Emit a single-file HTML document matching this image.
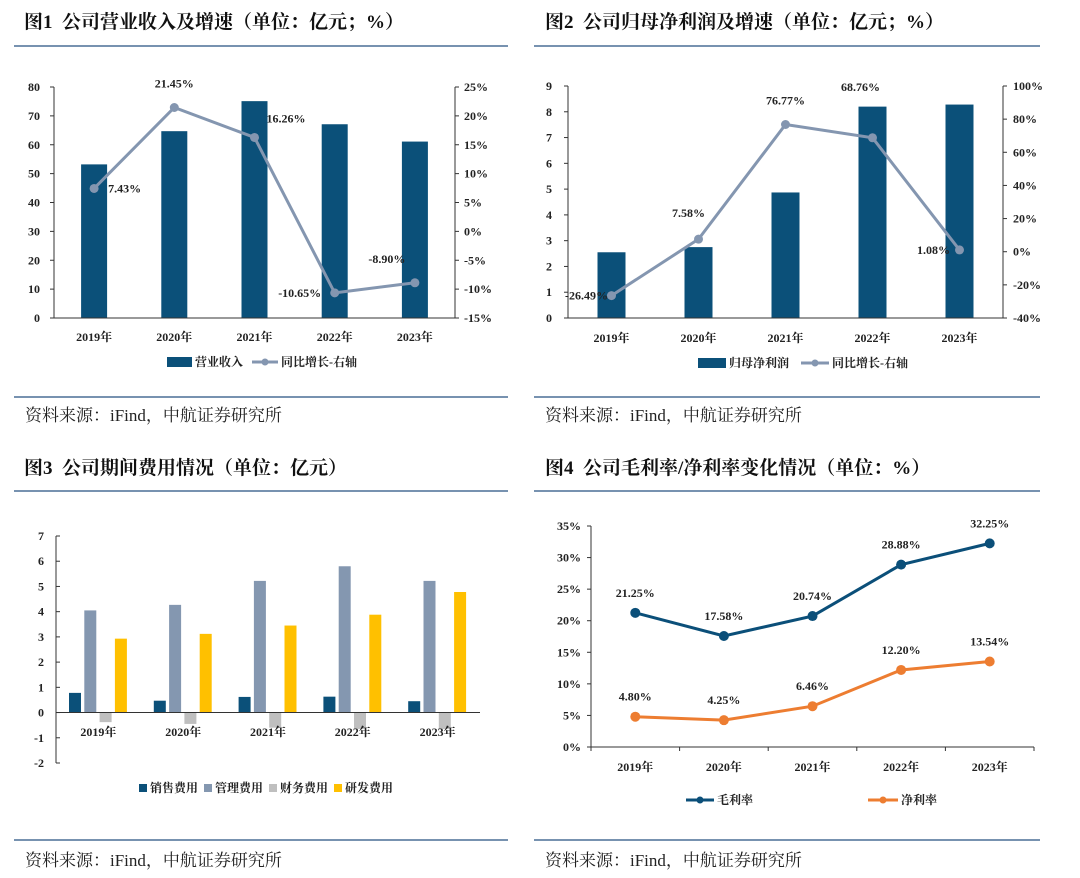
<!DOCTYPE html>
<html><head><meta charset="utf-8"><style>
html,body{margin:0;padding:0;background:#fff;}
svg{display:block;}
text{font-family:"Liberation Serif","Noto Serif CJK SC",serif;}
.t{font-size:19px;font-weight:bold;fill:#111;}
.s{font-size:17px;fill:#222;}
.a{font-size:12px;font-weight:bold;fill:#222;}
.l{font-size:12px;font-weight:bold;fill:#222;}
</style></head><body>
<svg id="svg" width="1080" height="878" viewBox="0 0 1080 878">
<g>
<text class="t" x="24" y="28">图1&#160;&#160;公司营业收入及增速（单位：亿元；%）</text>
<text class="t" x="545" y="28">图2&#160;&#160;公司归母净利润及增速（单位：亿元；%）</text>
<text class="t" x="24" y="474">图3&#160;&#160;公司期间费用情况（单位：亿元）</text>
<text class="t" x="545" y="474">图4&#160;&#160;公司毛利率/净利率变化情况（单位：%）</text>
<line x1="14" y1="46" x2="508" y2="46" stroke="#4a6f96" stroke-width="1.5"/>
<line x1="534" y1="46" x2="1040" y2="46" stroke="#4a6f96" stroke-width="1.5"/>
<line x1="14" y1="491" x2="508" y2="491" stroke="#4a6f96" stroke-width="1.5"/>
<line x1="534" y1="491" x2="1040" y2="491" stroke="#4a6f96" stroke-width="1.5"/>
<line x1="14" y1="397" x2="508" y2="397" stroke="#4a6f96" stroke-width="1.5"/>
<line x1="534" y1="397" x2="1040" y2="397" stroke="#4a6f96" stroke-width="1.5"/>
<line x1="14" y1="840" x2="508" y2="840" stroke="#4a6f96" stroke-width="1.5"/>
<line x1="534" y1="840" x2="1040" y2="840" stroke="#4a6f96" stroke-width="1.5"/>
<text class="s" x="25" y="421">资料来源：iFind，中航证券研究所</text>
<text class="s" x="545" y="421">资料来源：iFind，中航证券研究所</text>
<text class="s" x="25" y="866">资料来源：iFind，中航证券研究所</text>
<text class="s" x="545" y="866">资料来源：iFind，中航证券研究所</text>
</g>
<g id="c1"></g>
<g id="c2"></g>
<g id="c3"></g>
<g id="c4"></g>
</svg>
<script>
const years = ["2019年","2020年","2021年","2022年","2023年"];
const revenue = [53.2,64.7,75.1,67.1,61.1];
const revGrowth = [7.43,21.45,16.26,-10.65,-8.90];
const revTicks = [0,10,20,30,40,50,60,70,80];
const revGTicks = [-15,-10,-5,0,5,10,15,20,25];
const profit = [2.55,2.75,4.87,8.2,8.28];
const profGrowth = [-26.49,7.58,76.77,68.76,1.08];
const profTicks = [0,1,2,3,4,5,6,7,8,9];
const profGTicks = [-40,-20,0,20,40,60,80,100];
const sales = [0.78,0.47,0.62,0.63,0.45];
const admin = [4.05,4.27,5.22,5.8,5.22];
const finance = [-0.38,-0.45,-0.6,-0.65,-0.65];
const rnd = [2.93,3.12,3.45,3.88,4.78];
const expTicks = [-2,-1,0,1,2,3,4,5,6,7];
const gross = [21.25,17.58,20.74,28.88,32.25];
const net = [4.80,4.25,6.46,12.20,13.54];
const marginTicks = [0,5,10,15,20,25,30,35];

const NS="http://www.w3.org/2000/svg";
function mk(p,tag,at){const e=document.createElementNS(NS,tag);for(const k in at)e.setAttribute(k,at[k]);p.appendChild(e);return e;}
function txt(p,x,y,s,cls,anchor,fill){const e=mk(p,'text',{x:x,y:y,'class':cls,'text-anchor':anchor||'middle'});if(fill)e.setAttribute('fill',fill);e.textContent=s;return e;}
function lin(d0,d1,r0,r1){return v=>r0+(v-d0)*(r1-r0)/(d1-d0);}
const BLUE="#0b5079", GREYL="#8496b0";

// Chart 1
(function(){
const g=document.getElementById('c1');
const L=54,R=455,T=87,B=318;
const y=lin(0,80,B,T), y2=lin(-15,25,B,T);
const step=(R-L)/5, cx=i=>L+step*(i+0.5);
revTicks.forEach(t=>{mk(g,'line',{x1:L-4,x2:L,y1:y(t),y2:y(t),stroke:'#333'});const e=txt(g,L-14,y(t)+4,t,'a','end');});
revGTicks.forEach(t=>{mk(g,'line',{x1:R,x2:R+4,y1:y2(t),y2:y2(t),stroke:'#333'});const e=txt(g,R+9,y2(t)+4,t+'%','a','start');});
revenue.forEach((v,i)=>{const r=mk(g,'rect',{x:cx(i)-13,y:y(v),width:26,height:B-y(v),fill:BLUE});
const e=txt(g,cx(i),341,years[i],'a');});
mk(g,'line',{x1:L,x2:L,y1:T,y2:B,stroke:'#333'});mk(g,'line',{x1:R,x2:R,y1:T,y2:B,stroke:'#333'});mk(g,'line',{x1:L,x2:R,y1:B,y2:B,stroke:'#333'});
const pl=mk(g,'polyline',{points:revGrowth.map((v,i)=>cx(i)+','+y2(v)).join(' '),fill:'none',stroke:GREYL,'stroke-width':3});

const off=[[14,4,'start'],[0,-20,'middle'],[12,-15,'start'],[-35,4,'middle'],[-28,-20,'middle']];
revGrowth.forEach((v,i)=>{const c=mk(g,'circle',{cx:cx(i),cy:y2(v),r:4.5,fill:GREYL});
const o=off[i];const e=txt(g,cx(i)+o[0],y2(v)+o[1],v.toFixed(2)+'%','l',o[2]);});
mk(g,'rect',{x:167,y:357,width:25,height:10,fill:BLUE});txt(g,195,366,'营业收入','l','start');
mk(g,'line',{x1:252,x2:278,y1:362,y2:362,stroke:GREYL,'stroke-width':3});mk(g,'circle',{cx:265,cy:362,r:3.5,fill:GREYL});txt(g,281,366,'同比增长-右轴','l','start');
})();

// Chart 2
(function(){
const g=document.getElementById('c2');
const L=568,R=1003,T=86,B=318;
const y=lin(0,9,B,T), y2=lin(-40,100,B,T);
const step=(R-L)/5, cx=i=>L+step*(i+0.5);
profTicks.forEach(t=>{mk(g,'line',{x1:L-4,x2:L,y1:y(t),y2:y(t),stroke:'#333'});const e=txt(g,L-16,y(t)+4,t,'a','end');});
profGTicks.forEach(t=>{mk(g,'line',{x1:R,x2:R+4,y1:y2(t),y2:y2(t),stroke:'#333'});const e=txt(g,R+10,y2(t)+4,t+'%','a','start');});
profit.forEach((v,i)=>{const r=mk(g,'rect',{x:cx(i)-14,y:y(v),width:28,height:B-y(v),fill:BLUE});
const e=txt(g,cx(i),342,years[i],'a');});
mk(g,'line',{x1:L,x2:L,y1:T,y2:B,stroke:'#333'});mk(g,'line',{x1:R,x2:R,y1:T,y2:B,stroke:'#333'});mk(g,'line',{x1:L,x2:R,y1:B,y2:B,stroke:'#333'});
mk(g,'polyline',{points:profGrowth.map((v,i)=>cx(i)+','+y2(v)).join(' '),fill:'none',stroke:GREYL,'stroke-width':3});
const off=[[-25,4],[-10,-22],[0,-20],[-12,-47],[-26,4]];
profGrowth.forEach((v,i)=>{const c=mk(g,'circle',{cx:cx(i),cy:y2(v),r:4.5,fill:GREYL});
const e=txt(g,cx(i)+off[i][0],y2(v)+off[i][1],v.toFixed(2)+'%','l');});
mk(g,'rect',{x:698,y:358,width:28,height:10,fill:BLUE});txt(g,729,367,'归母净利润','l','start');
mk(g,'line',{x1:801,x2:829,y1:363,y2:363,stroke:GREYL,'stroke-width':3});mk(g,'circle',{cx:815,cy:363,r:3.5,fill:GREYL});txt(g,832,367,'同比增长-右轴','l','start');
})();

// Chart 3
(function(){
const g=document.getElementById('c3');
const L=56,R=480,T=536,B=763;
const y=lin(-2,7,B,T);
const step=(R-L)/5;
expTicks.forEach(t=>{mk(g,'line',{x1:L,x2:L+4,y1:y(t),y2:y(t),stroke:'#333'});const e=txt(g,L-12,y(t)+4,t,'a','end');});
const series=[sales,admin,finance,rnd], cols=[BLUE,'#8497b0','#bfbfbf','#ffc000'], names=['销售费用','管理费用','财务费用','研发费用'];
series.forEach((s,k)=>s.forEach((v,i)=>{const x=L+13+step*i+k*15.3;const r=mk(g,'rect',{x:x,y:Math.min(y(v),y(0)),width:12,height:Math.abs(y(v)-y(0)),fill:cols[k]});
}));
years.forEach((s,i)=>{const e=txt(g,L+step*(i+0.5),736,s,'a');});
mk(g,'line',{x1:L,x2:L,y1:T,y2:B,stroke:'#333'});mk(g,'line',{x1:L,x2:R,y1:y(0),y2:y(0),stroke:'#333'});
const lx=[139,204,269,334];
names.forEach((n,k)=>{mk(g,'rect',{x:lx[k],y:784,width:8,height:8,fill:cols[k]});const e=txt(g,lx[k]+11,792,n,'l','start');});
})();

// Chart 4
(function(){
const g=document.getElementById('c4');
const L=591,R=1034,T=526,B=747;
const y=lin(0,35,B,T);
const step=(R-L)/5, cx=i=>L+step*(i+0.5);
marginTicks.forEach(t=>{mk(g,'line',{x1:L-4,x2:L,y1:y(t),y2:y(t),stroke:'#333'});const e=txt(g,L-10,y(t)+4,t+'%','a','end','#595959');});
for(let i=0;i<=5;i++)mk(g,'line',{x1:L+step*i,x2:L+step*i,y1:B,y2:B+4,stroke:'#333'});
years.forEach((s,i)=>{const e=txt(g,cx(i),771,s,'a','middle','#595959');});
mk(g,'line',{x1:L,x2:L,y1:T,y2:B,stroke:'#333'});mk(g,'line',{x1:L,x2:R,y1:B,y2:B,stroke:'#333'});
[[gross,'#0b4f79','gross-margin'],[net,'#ed7d31','net-margin']].forEach(([s,c,n])=>{
const pl=mk(g,'polyline',{points:s.map((v,i)=>cx(i)+','+y(v)).join(' '),fill:'none',stroke:c,'stroke-width':3});

s.forEach((v,i)=>{const p=mk(g,'circle',{cx:cx(i),cy:y(v),r:5,fill:c});
const e=txt(g,cx(i),y(v)-16,v.toFixed(2)+'%','l','middle','#555');});});
mk(g,'line',{x1:686,x2:714,y1:800,y2:800,stroke:'#0b4f79','stroke-width':3});mk(g,'circle',{cx:700,cy:800,r:3.5,fill:'#0b4f79'});txt(g,717,804,'毛利率','l','start','#555');
mk(g,'line',{x1:868,x2:898,y1:800,y2:800,stroke:'#ed7d31','stroke-width':3});mk(g,'circle',{cx:883,cy:800,r:3.5,fill:'#ed7d31'});txt(g,901,804,'净利率','l','start','#555');
})();
</script>
</body></html>
